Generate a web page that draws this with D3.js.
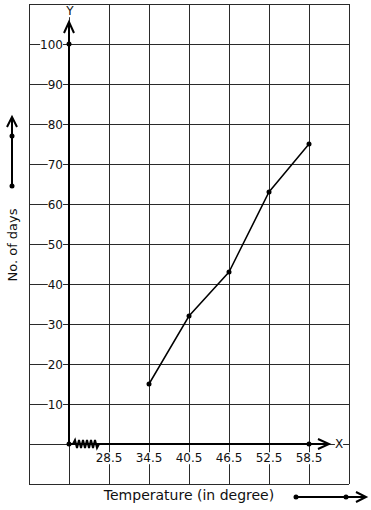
<!DOCTYPE html>
<meta charset="utf-8">
<script src="https://cdn.jsdelivr.net/npm/d3@7"></script>
<style>
body { margin: 0; background: #fff; }
text { font: 12px "DejaVu Sans", sans-serif; fill: #111; }
.grid line { stroke: #2a2a2a; stroke-width: 1; }
.axis { stroke: #000; stroke-width: 2; fill: none; }
</style>
<body>
<script>

// data
var temps = [34.5, 40.5, 46.5, 52.5, 58.5];
var days = [15, 32, 43, 63, 75];
var xTickLabels = [28.5, 34.5, 40.5, 46.5, 52.5, 58.5];
var yTickLabels = [10, 20, 30, 40, 50, 60, 70, 80, 90, 100];

var width = 371, height = 510;

var x = d3.scaleLinear().domain([16.5, 64.5]).range([29, 349]);
var y = d3.scaleLinear().domain([-10, 110]).range([484, 4]);

var svg = d3.select("body").append("svg")
    .attr("width", width)
    .attr("height", height);

// grid
var grid = svg.append("g").attr("class", "grid");
grid.selectAll(".v")
    .data(d3.range(16.5, 64.6, 6))
    .enter().append("line")
    .attr("x1", function(d) { return Math.round(x(d)) + 0.5; })
    .attr("x2", function(d) { return Math.round(x(d)) + 0.5; })
    .attr("y1", y(110)).attr("y2", y(-10));
grid.selectAll(".h")
    .data(d3.range(-10, 111, 10))
    .enter().append("line")
    .attr("y1", function(d) { return Math.round(y(d)) + 0.5; })
    .attr("y2", function(d) { return Math.round(y(d)) + 0.5; })
    .attr("x1", x(16.5)).attr("x2", x(64.5));

// label helper with white background so grid lines break around text
function label(g, txt, px, py, anchor) {
  var t = g.append("g").attr("transform", "translate(" + px + "," + py + ")");
  var bg = t.append("rect").attr("fill", "#fff");
  var tx = t.append("text").attr("text-anchor", anchor).attr("dy", "0.35em").text(txt);
  var b = tx.node().getBBox();
  bg.attr("x", b.x).attr("y", b.y + 1).attr("width", b.width).attr("height", b.height - 2);
  return t;
}

var labels = svg.append("g");
var x0 = x(22.5), y0 = y(0);

yTickLabels.forEach(function(d) {
  label(labels, d, x0 - 6, y(d) + 0.5, "end");
});
xTickLabels.forEach(function(d) {
  label(labels, d, x(d), y0 + 14, "middle");
});
label(labels, "X", x0 + 270, y0, "middle");
label(labels, "Y", x0 + 1, 11, "middle");

// axes
svg.append("line").attr("class", "axis")
    .attr("x1", x0).attr("y1", y0).attr("x2", x0).attr("y2", 22);
svg.append("path").attr("class", "axis")
    .attr("d", "M" + (x0 - 5) + ",33L" + x0 + ",22L" + (x0 + 5) + ",33");
svg.append("line").attr("class", "axis")
    .attr("x1", x0).attr("y1", y0).attr("x2", 329).attr("y2", y0);
svg.append("path").attr("class", "axis")
    .attr("d", "M318," + (y0 - 5) + "L329," + y0 + "L318," + (y0 + 5));

// zigzag break on x axis
var zz = "M" + (x0 + 4) + "," + y0;
for (var i = 0; i < 6; i++) {
  var sx = x0 + 5 + i * 4;
  zz += "L" + (sx + 1) + "," + (y0 - 4) + "L" + (sx + 3) + "," + (y0 + 4);
}
zz += "L" + (x0 + 30) + "," + y0;
svg.append("path").attr("d", zz)
    .attr("fill", "none").attr("stroke", "#000").attr("stroke-width", 2);

// axis dots
[[x0, y0], [x0, y(100)], [x(58.5), y0]].forEach(function(p) {
  svg.append("circle").attr("cx", p[0]).attr("cy", p[1]).attr("r", 2.5).attr("fill", "#000");
});

// data line
var pts = temps.map(function(t, i) { return [t, days[i]]; });
svg.append("path")
    .datum(pts)
    .attr("fill", "none")
    .attr("stroke", "#000")
    .attr("stroke-width", 1.5)
    .attr("d", d3.line().x(function(d) { return x(d[0]); }).y(function(d) { return y(d[1]); }));
svg.selectAll(".pt")
    .data(pts)
    .enter().append("circle")
    .attr("cx", function(d) { return x(d[0]); })
    .attr("cy", function(d) { return y(d[1]); })
    .attr("r", 2.5)
    .attr("fill", "#000");

// axis titles
svg.append("text")
    .attr("transform", "translate(17,245) rotate(-90)")
    .attr("text-anchor", "middle")
    .style("font-size", "13px")
    .text("No. of days");
svg.append("text")
    .attr("x", 189).attr("y", 500)
    .attr("text-anchor", "middle")
    .style("font-size", "14px")
    .text("Temperature (in degree)");

// scale arrows
svg.append("line").attr("class", "axis")
    .attr("x1", 12).attr("y1", 186).attr("x2", 12).attr("y2", 117);
svg.append("path").attr("class", "axis")
    .attr("d", "M7,127L12,117L17,127");
[[12, 186], [12, 136]].forEach(function(p) {
  svg.append("circle").attr("cx", p[0]).attr("cy", p[1]).attr("r", 2.5).attr("fill", "#000");
});
svg.append("line").attr("class", "axis")
    .attr("x1", 296).attr("y1", 497).attr("x2", 366).attr("y2", 497);
svg.append("path").attr("class", "axis")
    .attr("d", "M356,492L366,497L356,502");
[[296, 497], [346, 497]].forEach(function(p) {
  svg.append("circle").attr("cx", p[0]).attr("cy", p[1]).attr("r", 2.5).attr("fill", "#000");
});

</script>
</body>
